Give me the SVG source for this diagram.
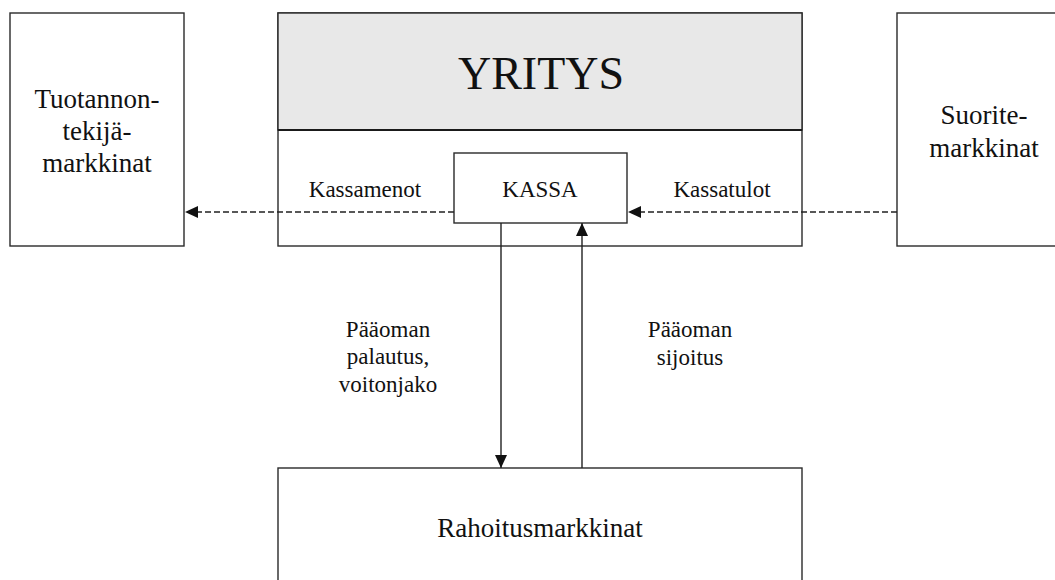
<svg xmlns="http://www.w3.org/2000/svg" width="1055" height="580" viewBox="0 0 1055 580">
  <style>
    .box { fill: #ffffff; stroke: #2a2a2a; stroke-width: 1.4; }
    .head { fill: #e8e8e8; stroke: #2a2a2a; stroke-width: 1.4; }
    .t { font-family: "Liberation Serif", "Times New Roman", serif; fill: #111; text-anchor: middle; }
    .big { font-size: 27px; }
    .mid { font-size: 23px; }
    .flow { stroke: #222; stroke-width: 1.4; fill: none; }
    .dash { stroke-dasharray: 6 3; }
  </style>
  <defs>
    <marker id="arrow" viewBox="0 0 13 12" refX="13" refY="6" markerWidth="13" markerHeight="12" markerUnits="userSpaceOnUse" orient="auto">
      <path d="M0,0 L13,6 L0,12 Z" fill="#111"/>
    </marker>
  </defs>

  <rect width="1055" height="580" fill="#ffffff"/>

  <!-- production factor markets -->
  <g id="tuotannontekijamarkkinat">
    <rect class="box" x="10" y="13" width="174" height="233"/>
    <text class="t big" x="97" y="108">Tuotannon-</text>
    <text class="t big" x="97" y="140">tekijä-</text>
    <text class="t big" x="97" y="172">markkinat</text>
  </g>

  <!-- the company -->
  <g id="yritys">
    <rect class="box" x="278" y="13" width="524" height="233"/>
    <rect class="head" x="278" y="13" width="524" height="117"/>
    <line x1="278" y1="130" x2="802" y2="130" stroke="#1a1a1a" stroke-width="2.2"/>
    <text class="t" x="541" y="89" font-size="46">YRITYS</text>
  </g>

  <!-- cash -->
  <g id="kassa">
    <rect class="box" x="454" y="153" width="173" height="70"/>
    <text class="t mid" x="540" y="197">KASSA</text>
  </g>

  <!-- output markets -->
  <g id="suoritemarkkinat">
    <rect class="box" x="897" y="13" width="174" height="233"/>
    <text class="t big" x="984" y="124">Suorite-</text>
    <text class="t big" x="984" y="157">markkinat</text>
  </g>

  <!-- financial markets -->
  <g id="rahoitusmarkkinat">
    <rect class="box" x="278" y="468" width="524" height="130"/>
    <text class="t big" x="540" y="537">Rahoitusmarkkinat</text>
  </g>

  <!-- flows -->
  <g id="connectors">
    <line class="flow dash" x1="454" y1="212" x2="185" y2="212" marker-end="url(#arrow)"/>
    <line class="flow dash" x1="897" y1="212" x2="628" y2="212" marker-end="url(#arrow)"/>
    <line class="flow" x1="501" y1="223" x2="501" y2="468" marker-end="url(#arrow)"/>
    <line class="flow" x1="582" y1="468" x2="582" y2="223" marker-end="url(#arrow)"/>
  </g>

  <!-- flow labels -->
  <g id="labels">
    <text class="t mid" x="365" y="197">Kassamenot</text>
    <text class="t mid" x="722" y="197">Kassatulot</text>
    <text class="t mid" x="388" y="337">Pääoman</text>
    <text class="t mid" x="388" y="364">palautus,</text>
    <text class="t mid" x="388" y="392">voitonjako</text>
    <text class="t mid" x="690" y="337">Pääoman</text>
    <text class="t mid" x="690" y="365">sijoitus</text>
  </g>
</svg>
